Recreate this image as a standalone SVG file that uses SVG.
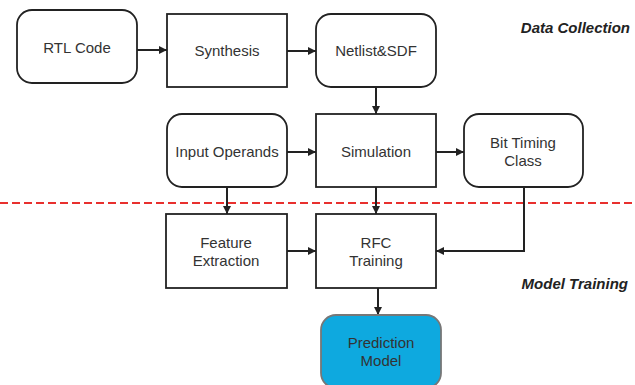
<svg xmlns="http://www.w3.org/2000/svg" width="635" height="385" viewBox="0 0 635 385">
<style>
.box{fill:#fff;stroke:#222;stroke-width:1.8}
.pm{fill:#0EA9DF;stroke:#777;stroke-width:1.8}
.t{font-family:"Liberation Sans",Arial,sans-serif;font-size:15px;fill:#333;text-anchor:middle}
.h{font-family:"Liberation Sans",Arial,sans-serif;font-size:15px;font-weight:bold;font-style:italic;fill:#222;text-anchor:end}
.c{fill:none;stroke:#222;stroke-width:2;marker-end:url(#a)}
</style>
<defs>
<marker id="a" viewBox="0 0 10 10" refX="10" refY="5" markerWidth="4" markerHeight="4" markerUnits="strokeWidth" orient="auto">
<path d="M0,0 L10,5 L0,10 z" fill="#222"/>
</marker>
</defs>
<line x1="0" y1="203" x2="635" y2="203" stroke="#E8302E" stroke-width="2" stroke-dasharray="8,4"/>
<text class="h" x="630" y="33">Data Collection</text>
<text class="h" x="628" y="289">Model Training</text>
<g id="connectors">
<path class="c" d="M137,50 H167"/>
<path class="c" d="M287,51 H316"/>
<path class="c" d="M376,87 V114"/>
<path class="c" d="M287,152 H316"/>
<path class="c" d="M436,152 H464"/>
<path class="c" d="M227,187 V214"/>
<path class="c" d="M376,187 V214"/>
<path class="c" d="M287,251 H316"/>
<path class="c" d="M524,187 V251 H436"/>
<path class="c" d="M378,288 V315"/>
</g>
<g id="rtl"><rect class="box" x="17" y="10" width="120" height="73" rx="15"/><text class="t" x="77" y="53">RTL Code</text></g>
<g id="synthesis"><rect class="box" x="167" y="14" width="120" height="73"/><text class="t" x="227" y="56">Synthesis</text></g>
<g id="netlist"><rect class="box" x="316" y="14" width="120" height="73" rx="15"/><text class="t" x="376" y="56">Netlist&amp;SDF</text></g>
<g id="input"><rect class="box" x="167" y="114" width="120" height="73" rx="15"/><text class="t" x="227" y="157">Input Operands</text></g>
<g id="simulation"><rect class="box" x="316" y="114" width="120" height="73"/><text class="t" x="376" y="157">Simulation</text></g>
<g id="bittiming"><rect class="box" x="464" y="114" width="119" height="73" rx="15"/><text class="t" x="523" y="148">Bit Timing</text><text class="t" x="523" y="166">Class</text></g>
<g id="feature"><rect class="box" x="166" y="214" width="121" height="74"/><text class="t" x="226" y="248">Feature</text><text class="t" x="226" y="266">Extraction</text></g>
<g id="rfc"><rect class="box" x="316" y="214" width="120" height="74"/><text class="t" x="376" y="248">RFC</text><text class="t" x="376" y="266">Training</text></g>
<g id="prediction"><rect class="pm" x="321" y="315" width="120" height="73" rx="15"/><text class="t" x="381" y="348">Prediction</text><text class="t" x="381" y="366">Model</text></g>
</svg>
